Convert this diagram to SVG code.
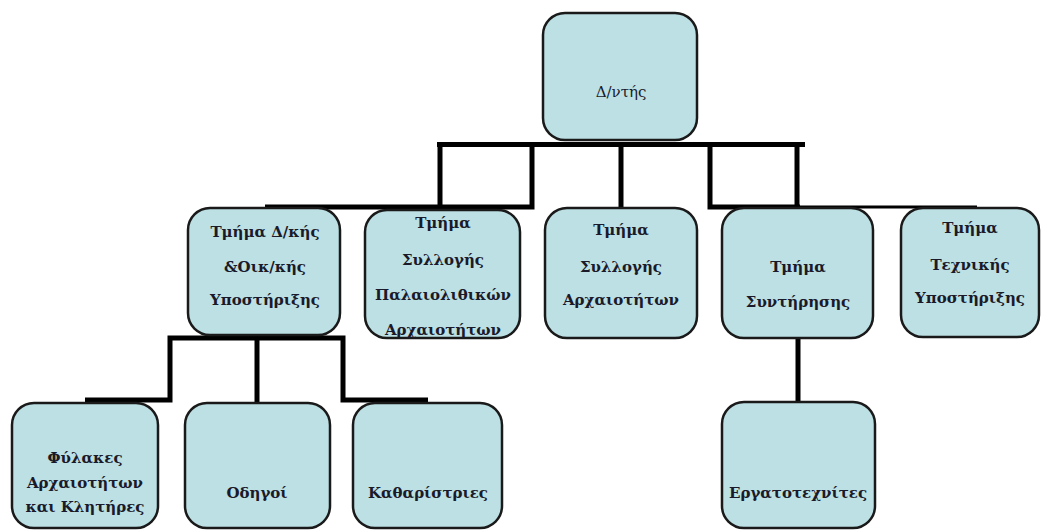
<svg xmlns="http://www.w3.org/2000/svg" width="1042" height="530" viewBox="0 0 1042 530">
<style>
.box{fill:#bce0e4;stroke:#1a1a1a;stroke-width:2.5}
.t{font-family:"DejaVu Serif","Liberation Serif",serif;font-size:15px;font-weight:bold;fill:#1a1a2a;text-anchor:middle}
.r{font-weight:normal}
.c{fill:none;stroke:#000;stroke-width:5;stroke-linejoin:miter;stroke-linecap:butt}
</style>
<rect width="1042" height="530" fill="#fff"/>
<g id="connectors">
<path class="c" d="M437 144.5 H805"/>
<path class="c" d="M440 144 V207"/>
<path class="c" d="M532 144 V207 H265"/>
<path class="c" d="M621 144 V208"/>
<path class="c" d="M710 144 V207 H800"/>
<path class="c" style="stroke-width:3" d="M800 207 H977"/>
<path class="c" d="M797 144 V207"/>
<path class="c" d="M798 338 V402"/>
<path class="c" d="M85 400 H170 V338 H343 V400 H428"/>
<path class="c" d="M257 338 V402"/>
</g>
<g id="n_director"><rect class="box" x="543" y="13" width="154" height="127" rx="22"/><text class="t r" x="621" y="97">Δ/ντής</text></g>
<g id="n_admin"><rect class="box" x="188" y="208" width="152" height="127" rx="22"/>
<text class="t" x="265" y="237">Τμήμα Δ/κής</text><text class="t" x="265" y="272">&amp;Οικ/κής</text><text class="t" x="265" y="305">Υποστήριξης</text></g>
<g id="n_paleo"><rect class="box" x="365" y="210" width="155" height="128" rx="22"/>
<text class="t" x="443" y="228">Τμήμα</text><text class="t" x="443" y="265">Συλλογής</text><text class="t" x="443" y="300">Παλαιολιθικών</text><text class="t" x="443" y="335">Αρχαιοτήτων</text></g>
<g id="n_antiq"><rect class="box" x="545" y="208" width="152" height="130" rx="22"/>
<text class="t" x="621" y="235">Τμήμα</text><text class="t" x="621" y="272">Συλλογής</text><text class="t" x="621" y="305">Αρχαιοτήτων</text></g>
<g id="n_conserv"><rect class="box" x="722" y="208" width="151" height="130" rx="22"/>
<text class="t" x="798" y="272">Τμήμα</text><text class="t" x="798" y="307">Συντήρησης</text></g>
<g id="n_tech"><rect class="box" x="901" y="208" width="138" height="129" rx="22"/>
<text class="t" x="970" y="233">Τμήμα</text><text class="t" x="970" y="270">Τεχνικής</text><text class="t" x="970" y="303">Υποστήριξης</text></g>
<g id="n_guards"><rect class="box" x="12" y="403" width="146" height="125" rx="22"/>
<text class="t" x="85" y="463">Φύλακες</text><text class="t" x="85" y="488">Αρχαιοτήτων</text><text class="t" x="85" y="512">και Κλητήρες</text></g>
<g id="n_guides"><rect class="box" x="185" y="403" width="145" height="125" rx="22"/>
<text class="t" x="257" y="498">Οδηγοί</text></g>
<g id="n_cleaners"><rect class="box" x="353" y="403" width="149" height="125" rx="22"/>
<text class="t" x="428" y="498">Καθαρίστριες</text></g>
<g id="n_workers"><rect class="box" x="722" y="402" width="153" height="126" rx="22"/>
<text class="t" x="798" y="498">Εργατοτεχνίτες</text></g>
</svg>
